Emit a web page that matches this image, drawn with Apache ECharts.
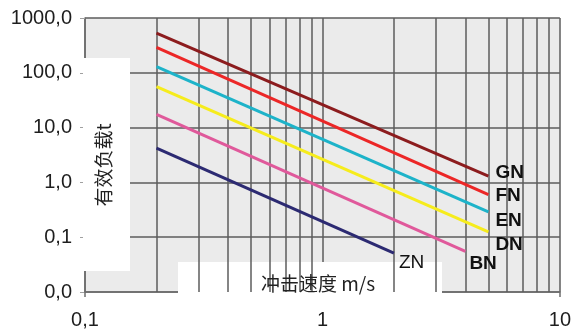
<!DOCTYPE html>
<html>
<head>
<meta charset="utf-8">
<script src="https://cdn.jsdelivr.net/npm/echarts@6/dist/echarts.min.js"></script>
<style>
  html, body { margin: 0; padding: 0; background: #ffffff; }
  #chart { width: 574px; height: 335px; }
</style>
</head>
<body>
<div id="chart"></div>
<script>
// Impact speed (m/s) and effective load (t) for each buffer size
const gnSpeed = [0.2, 5],  gnLoad = [530, 1.3];
const fnSpeed = [0.2, 5],  fnLoad = [290, 0.6];
const enSpeed = [0.2, 5],  enLoad = [130, 0.29];
const dnSpeed = [0.2, 5],  dnLoad = [56, 0.125];
const bnSpeed = [0.2, 4],  bnLoad = [17.5, 0.055];
const znSpeed = [0.2, 2],  znLoad = [4.2, 0.051];

const sizeNames = ['GN', 'FN', 'EN', 'DN', 'BN', 'ZN'];

// Axis ticks and their printed labels
const xTickValues = [0.1, 1, 10];
const xTickLabels = ['0,1', '1', '10'];
const yTickValues = [0.01, 0.1, 1, 10, 100, 1000];
const yTickLabels = ['0,0', '0,1', '1,0', '10,0', '100,0', '1000,0'];
// Intermediate vertical grid lines inside each decade
const xMinorGrid = [0.2, 0.3, 0.4, 0.5, 0.6, 0.7, 0.8, 0.9, 2, 3, 4, 5, 6, 7, 8, 9];

const axisTitleX = '冲击速度 m/s';
const axisTitleY = '有效负载t';

// Styling
const lineColors = {
  GN: '#8c1c1e', FN: '#ec2727', EN: '#1db3c9',
  DN: '#f6ec1c', BN: '#e0599b', ZN: '#2c2a72'
};
const endLabelOffsets = {
  GN: [7, -3], FN: [7, 1], EN: [7, 9], DN: [7, 13], BN: [4, 12], ZN: [5, 10]
};
const gridColor = '#5c5c5c';
const labelFont = '"Liberation Sans", Arial, sans-serif';
const cjkFont = '"Noto Sans CJK SC", "Noto Sans", sans-serif';

const seriesData = {
  GN: gnSpeed.map((v, i) => [v, gnLoad[i]]),
  FN: fnSpeed.map((v, i) => [v, fnLoad[i]]),
  EN: enSpeed.map((v, i) => [v, enLoad[i]]),
  DN: dnSpeed.map((v, i) => [v, dnLoad[i]]),
  BN: bnSpeed.map((v, i) => [v, bnLoad[i]]),
  ZN: znSpeed.map((v, i) => [v, znLoad[i]])
};

function tickLabel(values, labels, v) {
  const r = Number(v.toPrecision(4));
  for (let i = 0; i < values.length; i++) {
    if (Math.abs(values[i] - r) / values[i] < 1e-6) return labels[i];
  }
  return '';
}

const chart = echarts.init(document.getElementById('chart'), null, { renderer: 'canvas' });

const curveSeries = sizeNames.map(name => ({
  name: name,
  type: 'line',
  data: seriesData[name],
  showSymbol: false,
  symbol: 'none',
  z: 10,
  lineStyle: { color: lineColors[name], width: 3 },
  endLabel: {
    show: true,
    formatter: name,
    position: 'right',
    distance: 0,
    offset: endLabelOffsets[name],
    color: '#111111',
    fontFamily: labelFont,
    fontSize: 19,
    fontWeight: name === 'ZN' ? 'normal' : 'bold'
  }
}));

chart.setOption({
  animation: false,
  backgroundColor: '#ffffff',
  grid: { left: 85, right: 12, top: 18, bottom: 43, show: true, backgroundColor: '#ebebeb', borderWidth: 0 },
  xAxis: {
    type: 'log',
    logBase: 10,
    min: 0.1,
    max: 10,
    axisLine: { show: true, lineStyle: { color: '#6e6e6e', width: 1.5 } },
    axisTick: { show: true, length: 5, lineStyle: { color: '#6e6e6e', width: 1.5 } },
    axisLabel: {
      margin: 18,
      color: '#1e1e1e',
      fontFamily: labelFont,
      fontSize: 20,
      formatter: v => tickLabel(xTickValues, xTickLabels, v)
    },
    splitLine: { show: true, lineStyle: { color: gridColor, width: 1.5 } }
  },
  yAxis: {
    type: 'log',
    logBase: 10,
    min: 0.01,
    max: 1000,
    axisLine: { show: true, lineStyle: { color: '#6e6e6e', width: 1.5 } },
    axisTick: { show: true, length: 5, lineStyle: { color: '#a0a0a0' } },
    axisLabel: {
      margin: 13,
      color: '#1e1e1e',
      fontFamily: labelFont,
      fontSize: 20,
      formatter: v => tickLabel(yTickValues, yTickLabels, v)
    },
    splitLine: { show: true, lineStyle: { color: gridColor, width: 1.5 } }
  },
  series: [
    {
      name: 'minor-grid',
      type: 'line',
      data: [],
      z: 1,
      silent: true,
      markLine: {
        silent: true,
        symbol: 'none',
        animation: false,
        label: { show: false },
        lineStyle: { color: gridColor, width: 1.5, type: 'solid' },
        emphasis: { disabled: true },
        data: xMinorGrid.map(v => ({ xAxis: v }))
      }
    }
  ].concat(curveSeries),
  graphic: [
    // Blank panels behind the axis titles
    { type: 'rect', z: 5, silent: true, shape: { x: 83, y: 58, width: 47, height: 213 }, style: { fill: '#ffffff' } },
    { type: 'rect', z: 5, silent: true, shape: { x: 178, y: 262, width: 264, height: 40 }, style: { fill: '#ffffff' } },
    {
      type: 'text', z: 6, silent: true,
      x: 318, y: 284,
      style: { text: axisTitleX, fill: '#222222', font: '19px ' + cjkFont, textAlign: 'center', textVerticalAlign: 'middle' }
    },
    {
      type: 'text', z: 6, silent: true,
      x: 104, y: 165, rotation: Math.PI / 2,
      style: { text: axisTitleY, fill: '#222222', font: '19px ' + cjkFont, textAlign: 'center', textVerticalAlign: 'middle' }
    }
  ]
});
</script>
</body>
</html>
